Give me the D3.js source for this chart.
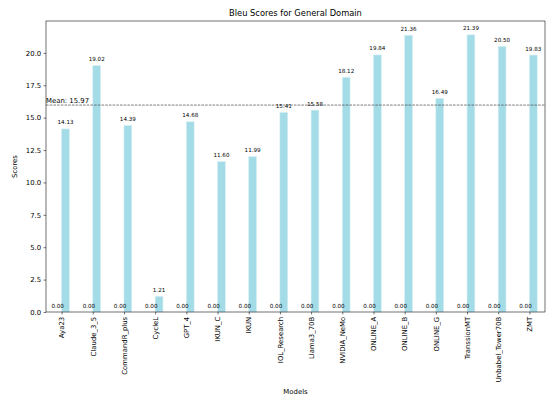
<!DOCTYPE html>
<html>
<head>
<meta charset="utf-8">
<script src="https://cdn.jsdelivr.net/npm/d3@7"></script>
<style>
  body { margin: 0; background: #fff; }
  text { font-family: "DejaVu Sans", sans-serif; fill: #000; }
</style>
</head>
<body>
<div id="container"></div>
<script>
var width = 550,
    height = 405;

var models = ["Aya23", "Claude_3_5", "CommandR_plus", "CycleL", "GPT_4", "IKUN_C", "IKUN",
    "IOL_Research", "Llama3_70B", "NVIDIA_NeMo", "ONLINE_A", "ONLINE_B", "ONLINE_G",
    "TranssionMT", "Unbabel_Tower70B", "ZMT"];
var zeroScores = [0, 0, 0, 0, 0, 0, 0, 0, 0, 0, 0, 0, 0, 0, 0, 0];
var bleuScores = [14.13, 19.02, 14.39, 1.21, 14.68, 11.60, 11.99, 15.41, 15.58, 18.12,
    19.84, 21.36, 16.49, 21.39, 20.50, 19.83];
var yTicks = [0, 2.5, 5, 7.5, 10, 12.5, 15, 17.5, 20];
var meanScore = d3.mean(bleuScores);

var pLeft = 46, pRight = 545, pTop = 21, pBottom = 312;
var barW = 0.25;

var svg = d3.select("#container").append("svg")
    .attr("width", width)
    .attr("height", height);

var x = d3.scaleLinear().domain([-0.5, models.length - 0.5]).range([pLeft, pRight]);
var y = d3.scaleLinear().domain([0, d3.max(bleuScores) * 1.05]).range([pBottom, pTop]);

// bars: zero series on the left of the tick, scores on the right
var series = [zeroScores, bleuScores];
series.forEach(function (vals, s) {
    var off = s == 0 ? -barW : 0;
    svg.append("g").selectAll("rect")
        .data(vals)
        .enter().append("rect")
        .attr("x", (d, i) => x(i + off))
        .attr("y", d => y(d))
        .attr("width", x(barW) - x(0))
        .attr("height", d => y(0) - y(d))
        .attr("fill", "#a3dbe6")
        .attr("stroke", d => d > 0 ? "#d6eff4" : "none")
        .attr("stroke-width", 0.6);
});
// value labels on top of all bars
series.forEach(function (vals, s) {
    var off = s == 0 ? -barW : 0;
    svg.append("g").selectAll("text")
        .data(vals)
        .enter().append("text")
        .attr("x", (d, i) => x(i + off + barW / 2))
        .attr("y", d => y(d) - 4.5)
        .attr("text-anchor", "middle")
        .attr("font-size", 5.6)
        .text(d => d.toFixed(2));
});

// mean line
svg.append("line")
    .attr("x1", pLeft).attr("x2", pRight)
    .attr("y1", y(meanScore)).attr("y2", y(meanScore))
    .attr("stroke", "#444")
    .attr("stroke-width", 0.7)
    .attr("stroke-dasharray", "2.6,1.1");
svg.append("text")
    .attr("x", pLeft)
    .attr("y", y(meanScore) - 2)
    .attr("font-size", 6.9)
    .text("Mean: " + meanScore.toFixed(2));

// axes
var yAxis = svg.append("g")
    .attr("transform", "translate(" + pLeft + ",0)")
    .call(d3.axisLeft(y).tickValues(yTicks).tickFormat(d3.format(".1f")).tickSize(2.4).tickPadding(2.4));
var xAxis = svg.append("g")
    .attr("transform", "translate(0," + pBottom + ")")
    .call(d3.axisBottom(x).tickValues(d3.range(models.length)).tickFormat(i => models[i]).tickSize(2.4));
xAxis.selectAll("text")
    .attr("transform", "rotate(-90)")
    .attr("text-anchor", "end")
    .attr("x", -4.8)
    .attr("y", 0)
    .attr("dy", "0.32em");
[yAxis, xAxis].forEach(function (g) {
    g.select(".domain").remove();
    g.selectAll("line").attr("stroke", "#000").attr("stroke-width", 0.56);
    g.selectAll("text").attr("font-size", 6.9).attr("font-family", "DejaVu Sans");
});

// frame
svg.append("rect")
    .attr("x", pLeft).attr("y", pTop)
    .attr("width", pRight - pLeft).attr("height", pBottom - pTop)
    .attr("fill", "none")
    .attr("stroke", "#000")
    .attr("stroke-width", 0.56);

svg.append("text")
    .attr("x", (pLeft + pRight) / 2).attr("y", 16)
    .attr("text-anchor", "middle")
    .attr("font-size", 8.3)
    .text("Bleu Scores for General Domain");
svg.append("text")
    .attr("x", (pLeft + pRight) / 2).attr("y", 394)
    .attr("text-anchor", "middle")
    .attr("font-size", 6.9)
    .text("Models");
svg.append("text")
    .attr("transform", "translate(17," + (pTop + pBottom) / 2 + ") rotate(-90)")
    .attr("text-anchor", "middle")
    .attr("font-size", 6.9)
    .text("Scores");
</script>
</body>
</html>
